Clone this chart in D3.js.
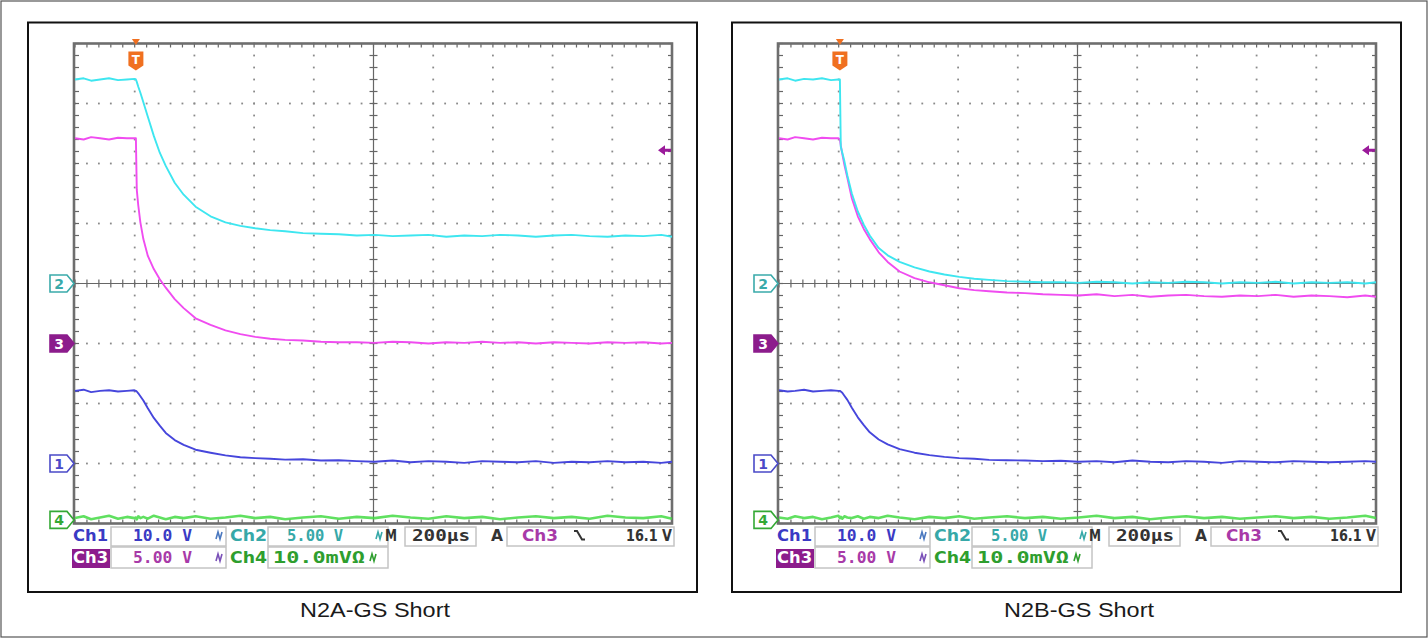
<!DOCTYPE html>
<html><head><meta charset="utf-8">
<script src="https://cdn.jsdelivr.net/npm/d3@7"></script>
<style>body{margin:0;background:#fff;} svg{display:block}</style>
</head><body><svg id="c" width="1428" height="638"></svg>
<script>
// time axis (µs relative to trigger), 200 µs/div
const times = [-204,-175,-150,-120,-90,-60,-30,-5, 0,3,8,15,25,40,60,80,100,130,160,200,250,300,350,400,450,500,560,620,680,740,800,860,920,980,1040,1100,1160,1220,1280,1340,1400,1460,1520,1580,1640,1700,1760,1796];

// N2A-GS Short
const n2aCh1 = [12.1,12.3,11.9,12.1,12.2,12.0,12.1,12.2, 12.1,12.0,11.7,11.2,10.5,9.2,7.6,6.3,5.1,3.9,3.1,2.3,1.8,1.35,1.05,0.9,0.8,0.65,0.7,0.5,0.55,0.4, 0.3,0.5,0.2,0.4,0.3,0.1,0.4,0.3,0.2,0.4,0.1,0.3,0.2,0.4,0.2,0.3,0.1, 0.3];
const n2aCh2 = [17.0,17.1,16.9,17.0,17.1,16.95,17.0,17.05, 17.0,16.8,16.4,15.9,15.1,13.9,12.3,10.9,9.8,8.4,7.4,6.4,5.6,5.1,4.8,4.6,4.45,4.35,4.2,4.15,4.1,4.0, 4.05,3.95,4.0,4.05,3.9,4.0,3.95,4.05,4.0,3.9,4.0,4.05,3.95,3.9,4.0,3.95,4.05, 3.9];
const n2aCh3 = [17.1,17.0,17.2,17.1,17.0,17.15,17.1,17.1, 17.1,12.8,11.5,10.1,8.7,7.3,6.2,5.35,4.65,3.7,2.95,2.1,1.55,1.1,0.78,0.55,0.4,0.3,0.25,0.15,0.1,0.1, 0.05,0.15,0.1,0.0,0.1,0.05,0.15,0.05,0.1,0.0,0.1,0.05,0.0,0.1,0.05,0.1,0.0, 0.05];
const n2aCh4 = [0.3,0.6,0.1,0.4,0.7,0.2,0.5,0.3, 0.4,0.1,0.6,0.3,0.5,0.2,0.7,0.4, 0.1,0.5,0.3,0.6,0.2,0.4,0.7,0.3, 0.5,0.1,0.4,0.6,0.2,0.5,0.3,0.7, 0.4,0.2,0.6,0.3,0.5,0.1,0.4,0.6, 0.3,0.5,0.2,0.7,0.4,0.3,0.6,0.2];

// N2B-GS Short
const n2bCh1 = [12.2,12.0,12.1,12.3,12.0,12.1,12.2,12.1, 12.1,12.0,11.8,11.3,10.6,9.3,7.7,6.4,5.2,4.0,3.2,2.4,1.8,1.4,1.1,0.9,0.8,0.6,0.55,0.5,0.4,0.45, 0.3,0.4,0.2,0.5,0.3,0.2,0.4,0.3,0.1,0.4,0.3,0.2,0.4,0.3,0.2,0.3,0.4, 0.3];
const n2bCh2 = [17.0,17.1,16.9,17.05,17.0,17.1,16.95,17.0, 17.0,11.4,10.9,10.2,9.0,7.5,6.0,4.9,4.0,2.95,2.35,1.8,1.35,1.0,0.75,0.55,0.4,0.3,0.2,0.15,0.1,0.1, 0.05,0.15,0.1,0.0,0.1,0.05,0.15,0.1,0.0,0.1,0.05,0.15,0.0,0.1,0.05,0.1,0.0, 0.1];
const n2bCh3 = [17.1,17.0,17.2,17.1,17.0,17.15,17.1,17.1, 17.0,16.5,15.8,14.9,13.8,12.1,10.6,9.55,8.7,7.6,6.8,6.0,5.45,5.1,4.85,4.6,4.45,4.35,4.25,4.2,4.1,4.05, 4.0,4.1,3.95,4.05,3.9,4.0,4.05,3.95,3.9,4.0,3.95,4.05,3.9,4.0,3.95,3.85,4.0, 3.9];
const n2bCh4 = [0.4,0.2,0.6,0.3,0.5,0.1,0.4,0.7, 0.3,0.5,0.2,0.6,0.4,0.3,0.6,0.2, 0.5,0.3,0.7,0.4,0.1,0.5,0.3,0.6, 0.2,0.4,0.6,0.3,0.5,0.2,0.4,0.7, 0.3,0.5,0.1,0.4,0.6,0.3,0.5,0.2, 0.4,0.6,0.3,0.5,0.2,0.4,0.7,0.3];

const panelTitles = ["N2A-GS Short", "N2B-GS Short"];
const channels = ["1", "2", "3", "4"];
const voltsPerDiv = [10, 5, 5, 10];      // Ch4 in mV
const groundDiv = [7, 4, 5, 7.94];        // divisions from top
const triggerLevel = 16.1;                 // Ch3 volts
const row1Texts = ["Ch1", "10.0 V", "Ch2", "5.00 V", "M", "200µs", "A", "Ch3", "16.1 V"];
const row2Texts = ["Ch3", "5.00 V", "Ch4", "10.0mVΩ"];

const traceColors = ["#4646dc", "#3ee6f0", "#f04cf0", "#44da44"];
const textColors = ["#3a3ac4", "#36a8a8", "#a83aa8", "#2e9e2e"];
const markerColors = ["#4a4ac8", "#3aaaaa", "#8c1c8c", "#34a834"];

const svg = d3.select("#c");
svg.append("rect").attr("width", 1428).attr("height", 638).attr("fill", "#fff");
svg.append("rect").attr("x", 1).attr("y", 1).attr("width", 1426).attr("height", 636)
  .attr("fill", "none").attr("stroke", "#555").attr("stroke-width", 1.2);

const panels = [[n2aCh1, n2aCh2, n2aCh3, n2aCh4], [n2bCh1, n2bCh2, n2bCh3, n2bCh4]];
const offsets = [0, 704];

function txt(g, x, y, s, o) {
  const t = g.append("text").attr("x", x).attr("y", y).text(s)
    .attr("fill", o.fill || "#222")
    .attr("font-family", o.family || "'DejaVu Sans', sans-serif")
    .attr("font-size", o.size || 16)
    .attr("font-weight", o.weight || "normal")
    .attr("text-anchor", o.anchor || "start");
  if (o.len) t.attr("textLength", o.len).attr("lengthAdjust", "spacingAndGlyphs");
  return t;
}

panels.forEach((traces, pi) => {
  const g = svg.append("g").attr("transform", `translate(${offsets[pi]},0)`);
  g.append("rect").attr("x", 28).attr("y", 22.5).attr("width", 669).attr("height", 569.5)
    .attr("fill", "#fff").attr("stroke", "#111").attr("stroke-width", 2);

  const L = 75, R = 672, T = 43.5, B = 523.5;
  const gx = d3.scaleLinear().domain([0, 10]).range([L, R]);
  const gy = d3.scaleLinear().domain([0, 8]).range([T, B]);
  const xs = d3.scaleLinear().domain([times[0], times[times.length - 1]]).range([L, R]);
  const ys = channels.map((c, i) => d3.scaleLinear()
    .domain([groundDiv[i] * voltsPerDiv[i], (groundDiv[i] - 8) * voltsPerDiv[i]]).range([T, B]));

  const grid = g.append("g");
  for (let k = 1; k < 10; k++) {
    if (k === 5) continue;
    for (let m = 0; m <= 40; m++) {
      grid.append("rect").attr("x", gx(k) - 0.9).attr("y", gy(m * 0.2) - 0.9)
        .attr("width", 1.8).attr("height", 1.8).attr("fill", "#8a8a8a");
    }
  }
  for (let j = 1; j < 8; j++) {
    if (j === 4) continue;
    for (let m = 0; m <= 50; m++) {
      grid.append("rect").attr("x", gx(m * 0.2) - 0.9).attr("y", gy(j) - 0.9)
        .attr("width", 1.8).attr("height", 1.8).attr("fill", "#8a8a8a");
    }
  }
  grid.append("line").attr("x1", gx(5)).attr("x2", gx(5)).attr("y1", T).attr("y2", B)
    .attr("stroke", "#666").attr("stroke-width", 1.2);
  grid.append("line").attr("x1", L).attr("x2", R).attr("y1", gy(4)).attr("y2", gy(4))
    .attr("stroke", "#666").attr("stroke-width", 1.2);
  for (let m = 0; m <= 50; m++) {
    const x = gx(m * 0.2);
    grid.append("line").attr("x1", x).attr("x2", x).attr("y1", gy(4) - 4).attr("y2", gy(4) + 4)
      .attr("stroke", "#666").attr("stroke-width", 1.2);
    grid.append("line").attr("x1", x).attr("x2", x).attr("y1", T).attr("y2", T + 4)
      .attr("stroke", "#666").attr("stroke-width", 1.2);
    grid.append("line").attr("x1", x).attr("x2", x).attr("y1", B - 4).attr("y2", B)
      .attr("stroke", "#666").attr("stroke-width", 1.2);
  }
  for (let m = 0; m <= 40; m++) {
    const y = gy(m * 0.2);
    grid.append("line").attr("x1", gx(5) - 4).attr("x2", gx(5) + 4).attr("y1", y).attr("y2", y)
      .attr("stroke", "#666").attr("stroke-width", 1.2);
    grid.append("line").attr("x1", L).attr("x2", L + 4).attr("y1", y).attr("y2", y)
      .attr("stroke", "#666").attr("stroke-width", 1.2);
    grid.append("line").attr("x1", R - 4).attr("x2", R).attr("y1", y).attr("y2", y)
      .attr("stroke", "#666").attr("stroke-width", 1.2);
  }
  grid.append("rect").attr("x", L - 1).attr("y", T).attr("width", R - L + 1).attr("height", B - T)
    .attr("fill", "none").attr("stroke", "#6e6e6e").attr("stroke-width", 2.6);

  // traces (Ch4, Ch1, Ch3, Ch2 order)
  [3, 0, 2, 1].forEach(ci => {
    const line = d3.line().x((d, i) => xs(times[i])).y(d => ys[ci](d));
    g.append("path").attr("d", line(traces[ci])).attr("fill", "none")
      .attr("stroke", traceColors[ci]).attr("stroke-width", ci === 3 ? 2.6 : 1.9)
      .attr("stroke-opacity", ci === 3 ? 0.85 : 1)
      .attr("stroke-linejoin", "round");
  });

  // channel ground markers
  channels.forEach((c, i) => {
    const y = ys[i](0);
    const filled = i === 2;
    g.append("path").attr("d", `M50,${y - 8.5} L67,${y - 8.5} L74,${y} L67,${y + 8.5} L50,${y + 8.5} Z`)
      .attr("fill", filled ? markerColors[i] : "#fff").attr("stroke", markerColors[i]).attr("stroke-width", 1.6);
    txt(g, 59, y + 5.5, c, { fill: filled ? "#fff" : markerColors[i], size: 14, weight: "bold", anchor: "middle" });
  });

  // trigger position marker
  const tx = xs(0);
  g.append("path").attr("d", `M${tx - 4},39 L${tx + 4},39 L${tx},45 Z`).attr("fill", "#f07020");
  g.append("path").attr("d", `M${tx - 7.5},51.5 h15 v14 l-7.5,5 l-7.5,-5 Z`).attr("fill", "#f07020");
  txt(g, tx, 64, "T", { fill: "#fff", size: 12, weight: "bold", anchor: "middle" });

  // trigger level marker (Ch3)
  const ty = ys[2](triggerLevel);
  g.append("path").attr("d", `M658,${ty} L665,${ty - 5} L665,${ty - 1.5} L671,${ty - 1.5} L671,${ty + 1.5} L665,${ty + 1.5} L665,${ty + 5} Z`)
    .attr("fill", "#9a1a9a");

  // settings boxes
  const boxes = [[111, 527, 115, 19], [268, 527, 120, 19], [405, 527, 71, 19], [507, 527, 167, 19],
                 [111, 547, 115, 21], [268, 547, 120, 21]];
  boxes.forEach(b => g.append("rect").attr("x", b[0]).attr("y", b[1]).attr("width", b[2]).attr("height", b[3])
    .attr("fill", "#fff").attr("stroke", "#c4c4c4").attr("stroke-width", 1.5));
  g.append("rect").attr("x", 72).attr("y", 549).attr("width", 38).attr("height", 19).attr("fill", "#8c1c8c");

  const mono = "'DejaVu Sans Mono', monospace";
  const y1 = 540.5, y2 = 562.5;
  txt(g, 73, y1, row1Texts[0], { fill: textColors[0], weight: "bold", len: 35 });
  txt(g, 133, y1, row1Texts[1], { fill: textColors[0], family: mono, weight: "bold", len: 59 });
  txt(g, 230, y1, row1Texts[2], { fill: textColors[1], weight: "bold", len: 37 });
  txt(g, 287, y1, row1Texts[3], { fill: textColors[1], family: mono, weight: "bold", len: 56 });
  txt(g, 385, y1, row1Texts[4], { fill: "#333", weight: "bold", len: 12 });
  txt(g, 412, y1, row1Texts[5], { fill: "#333", family: mono, weight: "bold", len: 58 });
  txt(g, 491, y1, row1Texts[6], { fill: "#333", weight: "bold", len: 12 });
  txt(g, 522, y1, row1Texts[7], { fill: textColors[2], weight: "bold", len: 36 });
  txt(g, 626, y1, row1Texts[8], { fill: "#333", weight: "bold", len: 46 });
  txt(g, 73, y2, row2Texts[0], { fill: "#fff", weight: "bold", len: 35 });
  txt(g, 133, y2, row2Texts[1], { fill: textColors[2], family: mono, weight: "bold", len: 59 });
  txt(g, 230, y2, row2Texts[2], { fill: textColors[3], weight: "bold", len: 37 });
  txt(g, 273, y2, row2Texts[3], { fill: textColors[3], family: mono, weight: "bold", len: 92 });

  // bandwidth symbols
  [[216, 535, "#4a78c0"], [376, 535, textColors[1]], [216, 557, "#7a50b8"], [370, 557, textColors[3]]].forEach(s => {
    g.append("path").attr("d", `M${s[0]},${s[1] + 4} L${s[0] + 2},${s[1] - 3} L${s[0] + 4},${s[1] + 4} L${s[0] + 6},${s[1] - 3}`)
      .attr("fill", "none").attr("stroke", s[2]).attr("stroke-width", 1.6);
  });
  // falling edge symbol
  g.append("path").attr("d", `M574,531 h3 l5,8.5 h3`).attr("fill", "none").attr("stroke", "#333").attr("stroke-width", 2);

  // caption
  txt(g, 375, 617, panelTitles[pi], { fill: "#1a1a1a", family: "'Liberation Sans', Arial, sans-serif", size: 21, anchor: "middle", len: 150 });
});
</script></body></html>
